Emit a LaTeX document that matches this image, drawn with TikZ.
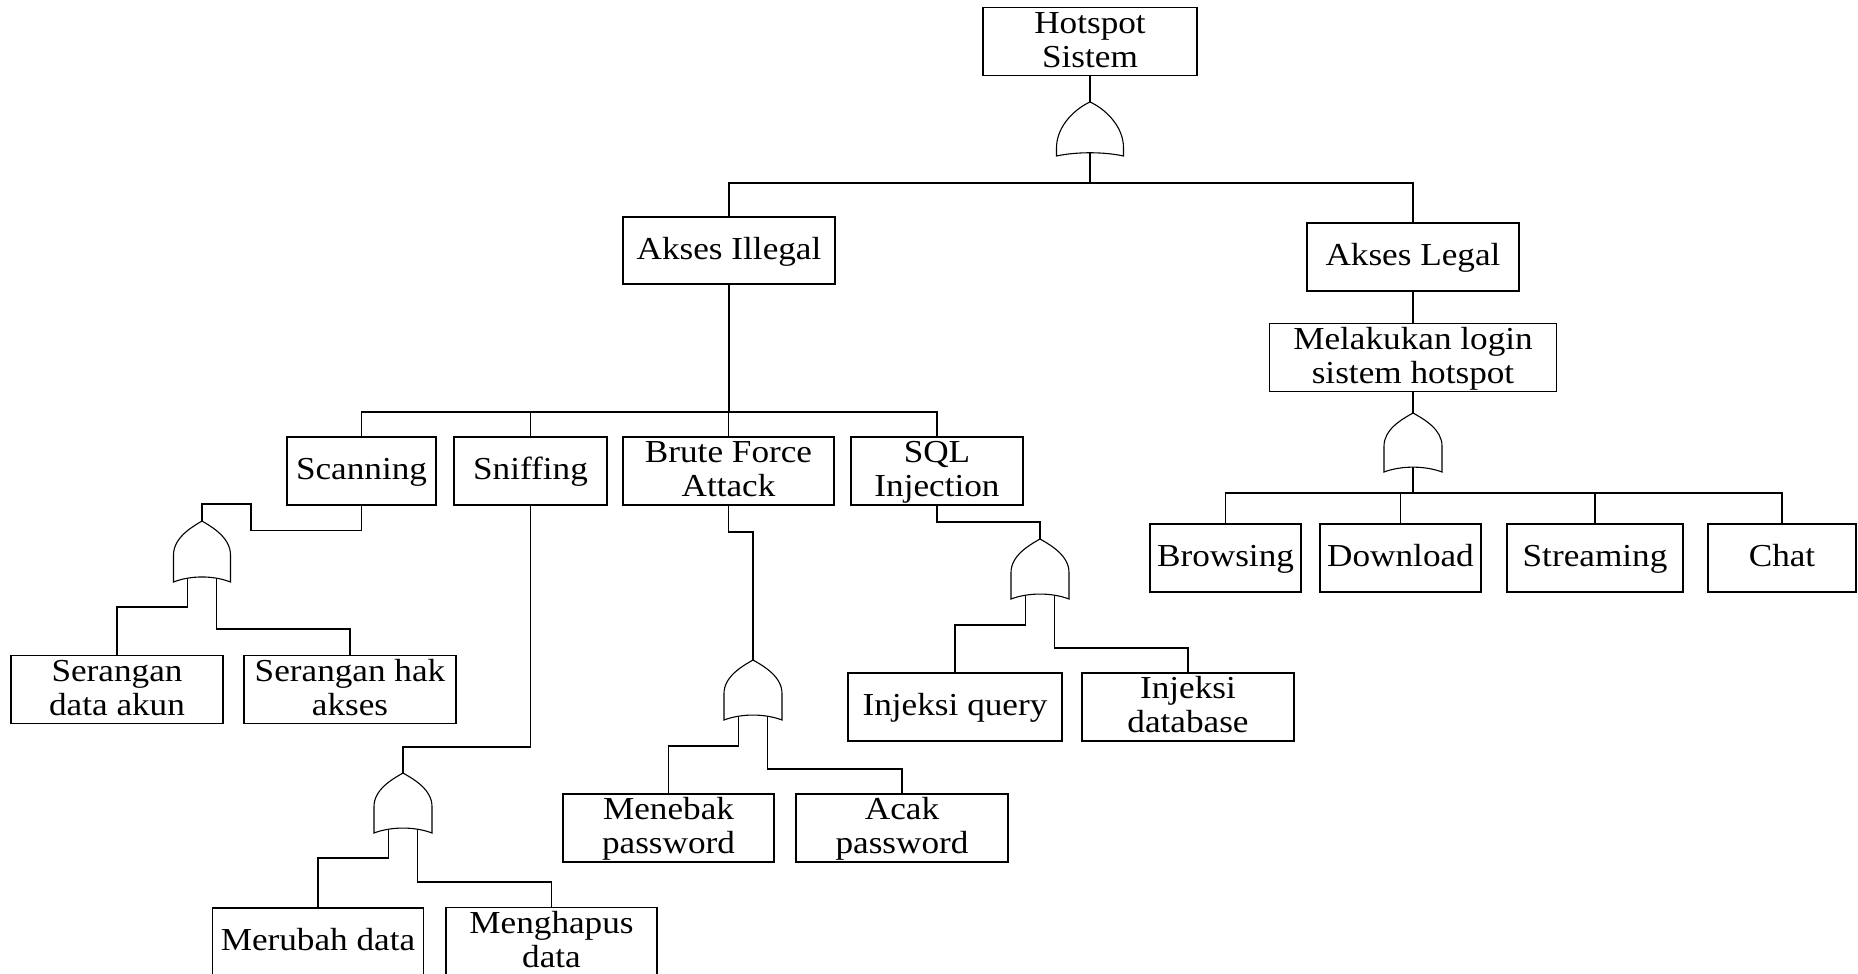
\documentclass[tikz,border=0pt]{standalone}
\usepackage{fontspec}
\setmainfont{Liberation Serif}
\usepackage{graphicx}
\newcommand\tl[1]{\raisebox{-2pt}[\height][\depth]{\scalebox{1.1}[1]{\fontsize{32}{34}\selectfont\begin{tabular}{@{}c@{}}#1\end{tabular}}}}
% #1 name, #2 cx, #3 top, #4 width, #5 height, #6 end of curved side (fraction), #7 bottom dip
\newcommand\orgate[7]{%
\begin{scope}[shift={(#2,#3)}, xscale=#4, yscale=#5]
\draw[gatestyle] (0,0) .. controls (0.2,0.11) and (0.5,#6*0.5) .. (0.5,#6) -- (0.5,1)
  .. controls (0.2,1-#7) and (-0.2,1-#7) .. (-0.5,1) -- (-0.5,#6)
  .. controls (-0.5,#6*0.5) and (-0.2,0.11) .. cycle;
\coordinate (#1-top) at (0,0);
\coordinate (#1-out) at (0,{1-0.75*#7});
\coordinate (#1-in1) at (-0.25,{1-0.6*#7});
\coordinate (#1-in2) at (0.25,{1-0.6*#7});
\end{scope}}
\begin{document}
\begin{tikzpicture}[x=1pt,y=-1pt, line width=1.1pt,
  box/.style={draw, inner sep=0pt, minimum height=67, line width=1.1pt},
  gatestyle/.style={line width=1.1pt}]
\useasboundingbox (0,0) rectangle (1858,974);
\clip (0,0) rectangle (1858,974);

% boxes
\node[box,minimum width=214] (hs) at (1090,41.5) {\tl{Hotspot\\Sistem}};
\node[box,minimum width=212] (ai) at (729,250.5) {\tl{Akses Illegal}};
\node[box,minimum width=212,minimum height=68] (al) at (1413,257) {\tl{Akses Legal}};
\node[box,minimum width=287] (ml) at (1413,357.5) {\tl{Melakukan login\\sistem hotspot}};
\node[box,minimum width=149,minimum height=68] (sc) at (361.5,471) {\tl{Scanning}};
\node[box,minimum width=153,minimum height=68] (sn) at (530.5,471) {\tl{Sniffing}};
\node[box,minimum width=211,minimum height=68] (bf) at (728.5,471) {\tl{Brute Force\\Attack}};
\node[box,minimum width=172,minimum height=68] (sq) at (937,471) {\tl{SQL\\Injection}};
\node[box,minimum width=212] (sda) at (117,689.5) {\tl{Serangan\\data akun}};
\node[box,minimum width=212] (sha) at (350,689.5) {\tl{Serangan hak\\akses}};
\node[box,minimum width=211,minimum height=68] (mb) at (668.5,828) {\tl{Menebak\\password}};
\node[box,minimum width=212,minimum height=68] (ap) at (902,828) {\tl{Acak\\password}};
\node[box,minimum width=214,minimum height=68] (iq) at (955,707) {\tl{Injeksi query}};
\node[box,minimum width=212,minimum height=68] (id) at (1188,707) {\tl{Injeksi\\database}};
\node[box,minimum width=211] (md) at (318,941.5) {\tl{Merubah data}};
\node[box,minimum width=211] (mh) at (551.5,941.5) {\tl{Menghapus\\data}};
\node[box,minimum width=151,minimum height=68] (br) at (1225.5,558) {\tl{Browsing}};
\node[box,minimum width=161,minimum height=68] (dl) at (1400.5,558) {\tl{Download}};
\node[box,minimum width=176,minimum height=68] (st) at (1595,558) {\tl{Streaming}};
\node[box,minimum width=148,minimum height=68] (ch) at (1782,558) {\tl{Chat}};

% gates
\orgate{g0}{1090}{102}{67}{54}{0.85}{0.08}
\orgate{gl}{1413}{413}{58}{59}{0.56}{0.11}
\orgate{gs}{202}{521}{57}{61}{0.56}{0.11}
\orgate{gsn}{403}{773}{58}{60}{0.56}{0.11}
\orgate{gb}{753}{660}{58}{60}{0.56}{0.11}
\orgate{gq}{1040}{539}{58}{60}{0.56}{0.11}

% top level
\draw (hs.south) -- (g0-top);
\coordinate (b0) at (1090,183);
\draw (g0-out) -- (b0);
\draw (ai.north) |- (b0) -| (al.north);

% legal branch
\draw (al.south) -- (ml.north);
\draw (ml.south) -- (gl-top);
\coordinate (b2) at (1413,493);
\draw (gl-out) -- (b2);
\draw (br.north) |- (b2) -| (ch.north);
\draw (dl.north) -- (dl.north |- b2);
\draw (st.north) -- (st.north |- b2);

% illegal branch
\coordinate (b1) at (729,412);
\draw (ai.south) -- (b1);
\draw (sc.north) |- (b1) -| (sq.north);
\draw (sn.north) -- (sn.north |- b1);
\draw (bf.north) -- (bf.north |- b1);

% scanning
\draw (sc.south) -- ++(0,25) -| (251,504) -| (gs-top);
\draw (gs-in1) |- (117,607) -- (sda.north);
\draw (gs-in2) |- (350,629) -- (sha.north);

% sniffing
\draw (sn.south) -- (530.5,747) -| (gsn-top);
\draw (gsn-in1) |- (318,858) -- (md.north);
\draw (gsn-in2) |- (551.5,882) -- (mh.north);

% brute force
\draw (bf.south) -- (728.5,532) -| (gb-top);
\draw (gb-in1) |- (668.5,746) -- (mb.north);
\draw (gb-in2) |- (902,769) -- (ap.north);

% sql injection
\draw (sq.south) -- (937,522) -| (gq-top);
\draw (gq-in1) |- (955,625) -- (iq.north);
\draw (gq-in2) |- (1188,648) -- (id.north);
\end{tikzpicture}
\end{document}
